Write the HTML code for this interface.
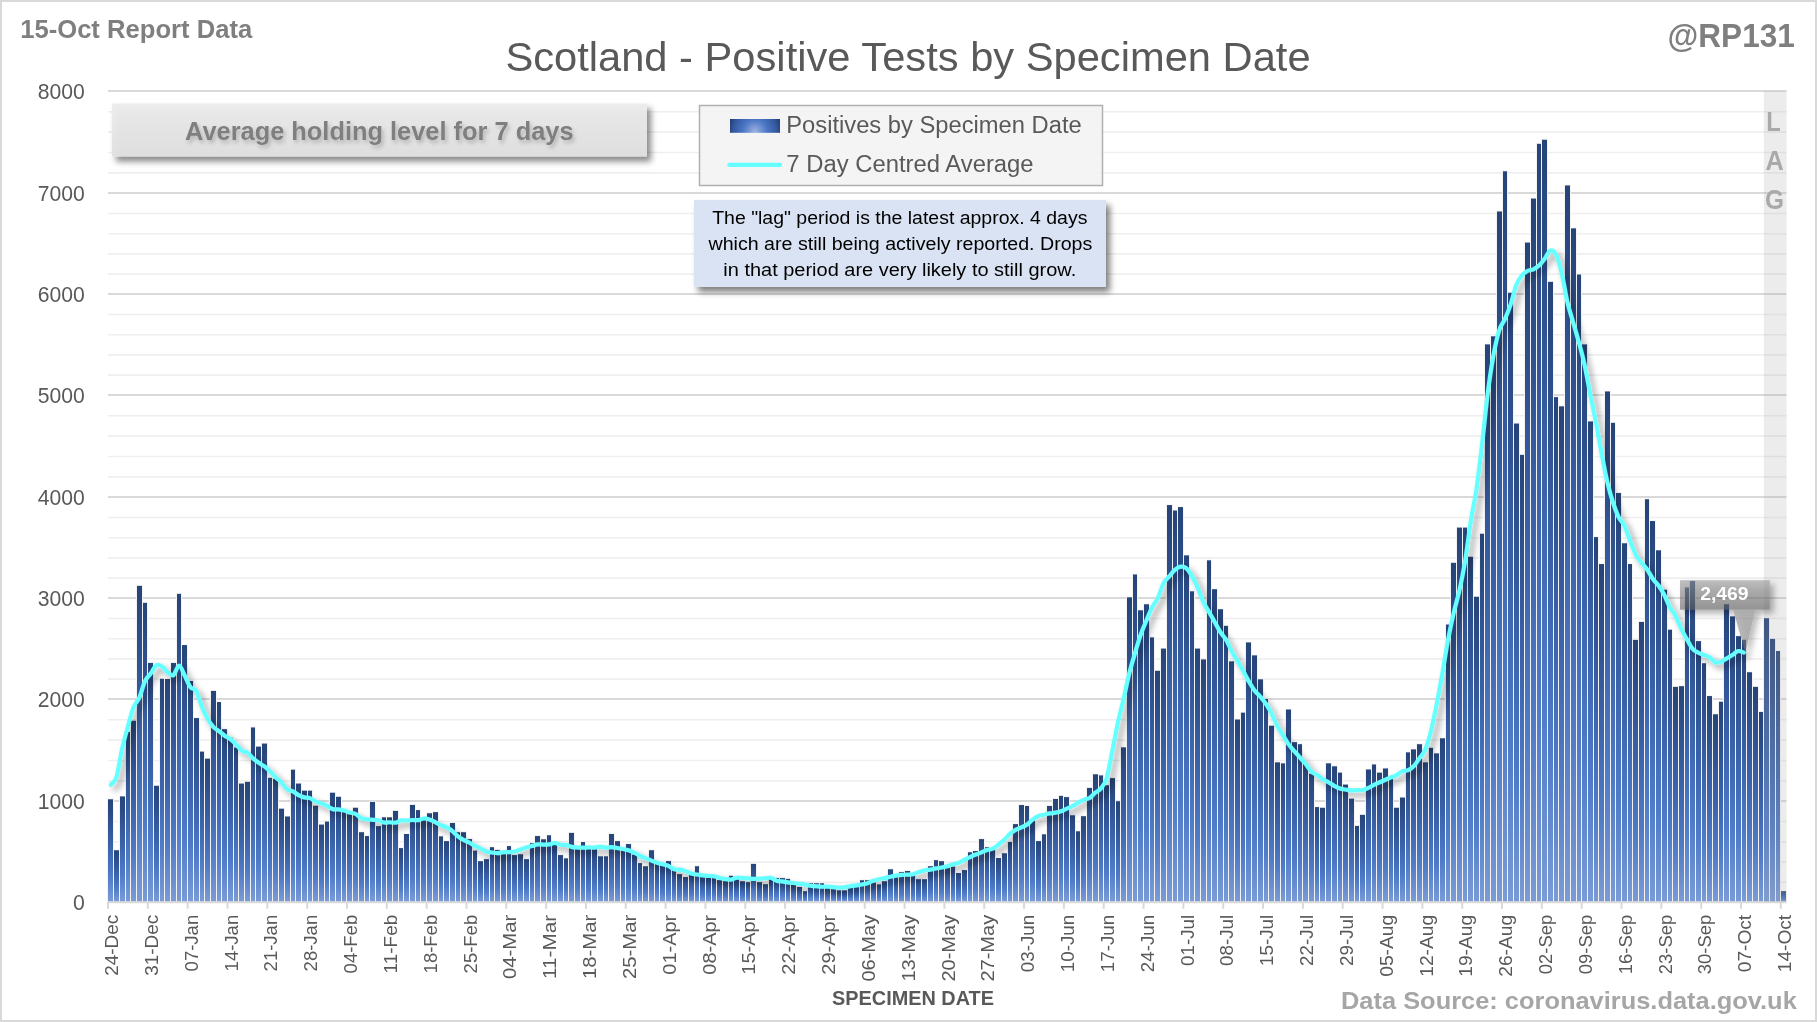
<!DOCTYPE html>
<html lang="en"><head><meta charset="utf-8"><title>Scotland - Positive Tests by Specimen Date</title>
<style>html,body{margin:0;padding:0;background:#fff;}body{width:1817px;height:1022px;overflow:hidden;}svg{display:block;will-change:transform;}text{font-family:"Liberation Sans",sans-serif;}</style>
</head><body>
<svg width="1817" height="1022" viewBox="0 0 1817 1022">
<defs>
<linearGradient id="bg" x1="0" y1="0" x2="0" y2="1">
<stop offset="0" stop-color="#264478"/><stop offset="0.22" stop-color="#2f5190"/><stop offset="0.5" stop-color="#3d66af"/><stop offset="0.75" stop-color="#4f7bc8"/><stop offset="1" stop-color="#7a9bd6"/>
</linearGradient>
<radialGradient id="lg" gradientUnits="userSpaceOnUse" cx="755" cy="131.5" r="27"><stop offset="0" stop-color="#9db2df"/><stop offset="0.45" stop-color="#4a76c6"/><stop offset="0.8" stop-color="#35599f"/><stop offset="1" stop-color="#223c78"/></radialGradient>
<linearGradient id="avgbox" x1="0" y1="0" x2="0" y2="1"><stop offset="0" stop-color="#ececec"/><stop offset="1" stop-color="#e0e0e0"/></linearGradient>
<filter id="lsh" x="-5%" y="-5%" width="110%" height="110%"><feGaussianBlur in="SourceAlpha" stdDeviation="3"/><feOffset dx="4" dy="4"/><feComponentTransfer><feFuncA type="linear" slope="0.38"/></feComponentTransfer><feMerge><feMergeNode/><feMergeNode in="SourceGraphic"/></feMerge></filter>
<filter id="bsh" x="-10%" y="-20%" width="120%" height="150%"><feGaussianBlur in="SourceAlpha" stdDeviation="3"/><feOffset dx="4" dy="5"/><feComponentTransfer><feFuncA type="linear" slope="0.5"/></feComponentTransfer><feMerge><feMergeNode/><feMergeNode in="SourceGraphic"/></feMerge></filter>
<filter id="tsh" x="-10%" y="-30%" width="120%" height="170%"><feGaussianBlur in="SourceAlpha" stdDeviation="2"/><feOffset dx="2" dy="2.5"/><feComponentTransfer><feFuncA type="linear" slope="0.22"/></feComponentTransfer><feMerge><feMergeNode/><feMergeNode in="SourceGraphic"/></feMerge></filter>
<linearGradient id="cg" x1="0" y1="0" x2="0" y2="1"><stop offset="0" stop-color="#969696"/><stop offset="1" stop-color="#5c5c5c"/></linearGradient>
<filter id="csh" x="-15%" y="-15%" width="135%" height="140%"><feGaussianBlur in="SourceAlpha" stdDeviation="3"/><feOffset dx="3.5" dy="4"/><feComponentTransfer><feFuncA type="linear" slope="0.5"/></feComponentTransfer><feComposite in2="SourceAlpha" operator="out"/><feMerge><feMergeNode/><feMergeNode in="SourceGraphic"/></feMerge></filter>
</defs>
<rect x="0" y="0" width="1817" height="1022" fill="#d9d9d9"/>
<rect x="2" y="2" width="1813" height="1018" fill="#ffffff"/>
<g><line x1="108.0" x2="1786.5" y1="882.34" y2="882.34" stroke="#efefef" stroke-width="1.6"/><line x1="108.0" x2="1786.5" y1="862.08" y2="862.08" stroke="#efefef" stroke-width="1.6"/><line x1="108.0" x2="1786.5" y1="841.82" y2="841.82" stroke="#efefef" stroke-width="1.6"/><line x1="108.0" x2="1786.5" y1="821.56" y2="821.56" stroke="#efefef" stroke-width="1.6"/><line x1="108.0" x2="1786.5" y1="801.00" y2="801.00" stroke="#d9d9d9" stroke-width="2"/><line x1="108.0" x2="1786.5" y1="780.90" y2="780.90" stroke="#efefef" stroke-width="1.6"/><line x1="108.0" x2="1786.5" y1="760.50" y2="760.50" stroke="#efefef" stroke-width="1.6"/><line x1="108.0" x2="1786.5" y1="740.10" y2="740.10" stroke="#efefef" stroke-width="1.6"/><line x1="108.0" x2="1786.5" y1="719.70" y2="719.70" stroke="#efefef" stroke-width="1.6"/><line x1="108.0" x2="1786.5" y1="699.00" y2="699.00" stroke="#d9d9d9" stroke-width="2"/><line x1="108.0" x2="1786.5" y1="679.10" y2="679.10" stroke="#efefef" stroke-width="1.6"/><line x1="108.0" x2="1786.5" y1="658.90" y2="658.90" stroke="#efefef" stroke-width="1.6"/><line x1="108.0" x2="1786.5" y1="638.70" y2="638.70" stroke="#efefef" stroke-width="1.6"/><line x1="108.0" x2="1786.5" y1="618.50" y2="618.50" stroke="#efefef" stroke-width="1.6"/><line x1="108.0" x2="1786.5" y1="598.00" y2="598.00" stroke="#d9d9d9" stroke-width="2"/><line x1="108.0" x2="1786.5" y1="578.10" y2="578.10" stroke="#efefef" stroke-width="1.6"/><line x1="108.0" x2="1786.5" y1="557.90" y2="557.90" stroke="#efefef" stroke-width="1.6"/><line x1="108.0" x2="1786.5" y1="537.70" y2="537.70" stroke="#efefef" stroke-width="1.6"/><line x1="108.0" x2="1786.5" y1="517.50" y2="517.50" stroke="#efefef" stroke-width="1.6"/><line x1="108.0" x2="1786.5" y1="497.00" y2="497.00" stroke="#d9d9d9" stroke-width="2"/><line x1="108.0" x2="1786.5" y1="476.90" y2="476.90" stroke="#efefef" stroke-width="1.6"/><line x1="108.0" x2="1786.5" y1="456.50" y2="456.50" stroke="#efefef" stroke-width="1.6"/><line x1="108.0" x2="1786.5" y1="436.10" y2="436.10" stroke="#efefef" stroke-width="1.6"/><line x1="108.0" x2="1786.5" y1="415.70" y2="415.70" stroke="#efefef" stroke-width="1.6"/><line x1="108.0" x2="1786.5" y1="395.00" y2="395.00" stroke="#d9d9d9" stroke-width="2"/><line x1="108.0" x2="1786.5" y1="375.10" y2="375.10" stroke="#efefef" stroke-width="1.6"/><line x1="108.0" x2="1786.5" y1="354.90" y2="354.90" stroke="#efefef" stroke-width="1.6"/><line x1="108.0" x2="1786.5" y1="334.70" y2="334.70" stroke="#efefef" stroke-width="1.6"/><line x1="108.0" x2="1786.5" y1="314.50" y2="314.50" stroke="#efefef" stroke-width="1.6"/><line x1="108.0" x2="1786.5" y1="294.00" y2="294.00" stroke="#d9d9d9" stroke-width="2"/><line x1="108.0" x2="1786.5" y1="274.10" y2="274.10" stroke="#efefef" stroke-width="1.6"/><line x1="108.0" x2="1786.5" y1="253.90" y2="253.90" stroke="#efefef" stroke-width="1.6"/><line x1="108.0" x2="1786.5" y1="233.70" y2="233.70" stroke="#efefef" stroke-width="1.6"/><line x1="108.0" x2="1786.5" y1="213.50" y2="213.50" stroke="#efefef" stroke-width="1.6"/><line x1="108.0" x2="1786.5" y1="193.00" y2="193.00" stroke="#d9d9d9" stroke-width="2"/><line x1="108.0" x2="1786.5" y1="172.90" y2="172.90" stroke="#efefef" stroke-width="1.6"/><line x1="108.0" x2="1786.5" y1="152.50" y2="152.50" stroke="#efefef" stroke-width="1.6"/><line x1="108.0" x2="1786.5" y1="132.10" y2="132.10" stroke="#efefef" stroke-width="1.6"/><line x1="108.0" x2="1786.5" y1="111.70" y2="111.70" stroke="#efefef" stroke-width="1.6"/><line x1="108.0" x2="1786.5" y1="91.00" y2="91.00" stroke="#d9d9d9" stroke-width="2"/></g>
<g fill="#f3f3f3"><rect x="107" y="798.47" width="7" height="103.13"/><rect x="113" y="849.43" width="7" height="52.17"/><rect x="119" y="795.61" width="7" height="105.99"/><rect x="125" y="731.15" width="6" height="170.45"/><rect x="130" y="719.93" width="7" height="181.67"/><rect x="136" y="585.08" width="7" height="316.52"/><rect x="142" y="602.05" width="6" height="299.55"/><rect x="147" y="662.14" width="7" height="239.46"/><rect x="153" y="785.00" width="7" height="116.60"/><rect x="159" y="678.00" width="6" height="223.60"/><rect x="164" y="678.20" width="7" height="223.40"/><rect x="170" y="662.14" width="7" height="239.46"/><rect x="176" y="593.06" width="6" height="308.54"/><rect x="181" y="644.27" width="7" height="257.33"/><rect x="187" y="680.22" width="7" height="221.38"/><rect x="193" y="717.27" width="7" height="184.33"/><rect x="199" y="750.83" width="6" height="150.77"/><rect x="204" y="757.87" width="7" height="143.73"/><rect x="210" y="690.12" width="7" height="211.48"/><rect x="216" y="701.26" width="6" height="200.34"/><rect x="221" y="728.39" width="7" height="173.21"/><rect x="227" y="736.96" width="7" height="164.64"/><rect x="233" y="746.75" width="6" height="154.85"/><rect x="238" y="782.76" width="7" height="118.84"/><rect x="244" y="781.02" width="7" height="120.58"/><rect x="250" y="726.66" width="6" height="174.94"/><rect x="255" y="745.83" width="7" height="155.77"/><rect x="261" y="742.77" width="7" height="158.83"/><rect x="267" y="777.05" width="6" height="124.55"/><rect x="272" y="778.07" width="7" height="123.53"/><rect x="278" y="807.90" width="7" height="93.70"/><rect x="284" y="815.70" width="7" height="85.90"/><rect x="290" y="768.89" width="6" height="132.71"/><rect x="295" y="782.76" width="7" height="118.84"/><rect x="301" y="789.90" width="7" height="111.70"/><rect x="307" y="789.90" width="6" height="111.70"/><rect x="312" y="804.96" width="7" height="96.64"/><rect x="318" y="823.80" width="7" height="77.80"/><rect x="324" y="820.76" width="6" height="80.84"/><rect x="329" y="791.94" width="7" height="109.66"/><rect x="335" y="796.02" width="7" height="105.58"/><rect x="341" y="808.30" width="6" height="93.30"/><rect x="346" y="812.46" width="7" height="89.14"/><rect x="352" y="806.99" width="7" height="94.61"/><rect x="358" y="831.40" width="7" height="70.20"/><rect x="364" y="835.25" width="6" height="66.35"/><rect x="369" y="801.11" width="7" height="100.49"/><rect x="375" y="825.32" width="7" height="76.28"/><rect x="381" y="816.51" width="6" height="85.09"/><rect x="386" y="816.51" width="7" height="85.09"/><rect x="392" y="810.13" width="7" height="91.47"/><rect x="398" y="847.30" width="6" height="54.30"/><rect x="403" y="833.22" width="7" height="68.38"/><rect x="409" y="804.15" width="7" height="97.45"/><rect x="415" y="809.32" width="6" height="92.28"/><rect x="420" y="817.72" width="7" height="83.88"/><rect x="426" y="812.46" width="7" height="89.14"/><rect x="432" y="811.34" width="7" height="90.26"/><rect x="438" y="835.55" width="6" height="66.05"/><rect x="443" y="840.31" width="7" height="61.29"/><rect x="449" y="822.18" width="7" height="79.42"/><rect x="455" y="831.40" width="6" height="70.20"/><rect x="460" y="831.40" width="7" height="70.20"/><rect x="466" y="838.29" width="7" height="63.31"/><rect x="472" y="849.84" width="6" height="51.76"/><rect x="477" y="860.37" width="7" height="41.23"/><rect x="483" y="858.35" width="7" height="43.25"/><rect x="489" y="846.39" width="6" height="55.21"/><rect x="494" y="849.13" width="7" height="52.47"/><rect x="500" y="852.47" width="7" height="49.13"/><rect x="506" y="845.28" width="6" height="56.32"/><rect x="511" y="854.29" width="7" height="47.31"/><rect x="517" y="853.48" width="7" height="48.12"/><rect x="523" y="858.35" width="7" height="43.25"/><rect x="529" y="842.34" width="6" height="59.26"/><rect x="534" y="835.25" width="7" height="66.35"/><rect x="540" y="838.49" width="7" height="63.11"/><rect x="546" y="834.44" width="6" height="67.16"/><rect x="551" y="843.05" width="7" height="58.55"/><rect x="557" y="854.29" width="7" height="47.31"/><rect x="563" y="857.54" width="6" height="44.06"/><rect x="568" y="832.11" width="7" height="69.49"/><rect x="574" y="847.10" width="7" height="54.50"/><rect x="580" y="841.23" width="6" height="60.37"/><rect x="585" y="847.10" width="7" height="54.50"/><rect x="591" y="847.81" width="7" height="53.79"/><rect x="597" y="855.51" width="7" height="46.09"/><rect x="603" y="855.51" width="6" height="46.09"/><rect x="608" y="833.22" width="7" height="68.38"/><rect x="614" y="840.31" width="7" height="61.29"/><rect x="620" y="848.42" width="6" height="53.18"/><rect x="625" y="843.25" width="7" height="58.35"/><rect x="631" y="853.89" width="7" height="47.71"/><rect x="637" y="862.30" width="6" height="39.30"/><rect x="642" y="865.44" width="7" height="36.16"/><rect x="648" y="849.43" width="7" height="52.17"/><rect x="654" y="862.70" width="6" height="38.90"/><rect x="659" y="864.53" width="7" height="37.07"/><rect x="665" y="860.27" width="7" height="41.33"/><rect x="671" y="868.88" width="6" height="32.72"/><rect x="676" y="873.34" width="7" height="28.26"/><rect x="682" y="876.28" width="7" height="25.32"/><rect x="688" y="873.34" width="7" height="28.26"/><rect x="694" y="865.44" width="6" height="36.16"/><rect x="699" y="874.96" width="7" height="26.64"/><rect x="705" y="876.28" width="7" height="25.32"/><rect x="711" y="876.28" width="6" height="25.32"/><rect x="716" y="879.32" width="7" height="22.28"/><rect x="722" y="880.43" width="7" height="21.17"/><rect x="728" y="874.96" width="6" height="26.64"/><rect x="733" y="878.40" width="7" height="23.20"/><rect x="739" y="880.43" width="7" height="21.17"/><rect x="745" y="881.34" width="6" height="20.26"/><rect x="750" y="863.11" width="7" height="38.49"/><rect x="756" y="881.34" width="7" height="20.26"/><rect x="762" y="883.37" width="7" height="18.23"/><rect x="768" y="878.40" width="6" height="23.20"/><rect x="773" y="877.29" width="7" height="24.31"/><rect x="779" y="877.29" width="7" height="24.31"/><rect x="785" y="878.10" width="6" height="23.50"/><rect x="790" y="883.77" width="7" height="17.83"/><rect x="796" y="886.20" width="7" height="15.40"/><rect x="802" y="890.36" width="6" height="11.24"/><rect x="807" y="882.46" width="7" height="19.14"/><rect x="813" y="882.46" width="7" height="19.14"/><rect x="819" y="882.46" width="6" height="19.14"/><rect x="824" y="887.22" width="7" height="14.38"/><rect x="830" y="887.22" width="7" height="14.38"/><rect x="836" y="889.55" width="6" height="12.05"/><rect x="841" y="889.55" width="7" height="12.05"/><rect x="847" y="886.20" width="7" height="15.40"/><rect x="853" y="885.80" width="7" height="15.80"/><rect x="859" y="879.42" width="6" height="22.18"/><rect x="864" y="879.42" width="7" height="22.18"/><rect x="870" y="881.75" width="7" height="19.85"/><rect x="876" y="883.57" width="6" height="18.03"/><rect x="881" y="880.43" width="7" height="21.17"/><rect x="887" y="868.48" width="7" height="33.12"/><rect x="893" y="875.67" width="6" height="25.93"/><rect x="898" y="871.31" width="7" height="30.29"/><rect x="904" y="870.20" width="7" height="31.40"/><rect x="910" y="874.55" width="6" height="27.05"/><rect x="915" y="878.40" width="7" height="23.20"/><rect x="921" y="878.40" width="7" height="23.20"/><rect x="927" y="865.44" width="7" height="36.16"/><rect x="933" y="859.36" width="6" height="42.24"/><rect x="938" y="860.37" width="7" height="41.23"/><rect x="944" y="865.44" width="7" height="36.16"/><rect x="950" y="865.84" width="6" height="35.76"/><rect x="955" y="872.22" width="7" height="29.38"/><rect x="961" y="869.29" width="7" height="32.31"/><rect x="967" y="851.46" width="6" height="50.14"/><rect x="972" y="850.24" width="7" height="51.36"/><rect x="978" y="838.29" width="7" height="63.31"/><rect x="984" y="846.39" width="6" height="55.21"/><rect x="989" y="848.42" width="7" height="53.18"/><rect x="995" y="857.23" width="7" height="44.37"/><rect x="1001" y="852.47" width="7" height="49.13"/><rect x="1007" y="841.23" width="6" height="60.37"/><rect x="1012" y="823.30" width="7" height="78.30"/><rect x="1018" y="804.25" width="7" height="97.35"/><rect x="1024" y="805.16" width="6" height="96.44"/><rect x="1029" y="819.75" width="7" height="81.85"/><rect x="1035" y="840.31" width="7" height="61.29"/><rect x="1041" y="833.53" width="6" height="68.07"/><rect x="1046" y="805.16" width="7" height="96.44"/><rect x="1052" y="798.16" width="7" height="103.44"/><rect x="1058" y="795.10" width="6" height="106.50"/><rect x="1063" y="796.32" width="7" height="105.28"/><rect x="1069" y="814.48" width="7" height="87.12"/><rect x="1075" y="830.49" width="6" height="71.11"/><rect x="1080" y="815.39" width="7" height="86.21"/><rect x="1086" y="787.14" width="7" height="114.46"/><rect x="1092" y="773.48" width="7" height="128.12"/><rect x="1098" y="774.60" width="6" height="127.00"/><rect x="1103" y="784.39" width="7" height="117.21"/><rect x="1109" y="777.35" width="7" height="124.25"/><rect x="1115" y="800.40" width="6" height="101.20"/><rect x="1120" y="746.55" width="7" height="155.05"/><rect x="1126" y="596.49" width="7" height="305.11"/><rect x="1132" y="573.67" width="6" height="327.93"/><rect x="1137" y="609.52" width="7" height="292.08"/><rect x="1143" y="603.46" width="7" height="298.14"/><rect x="1149" y="636.59" width="6" height="265.01"/><rect x="1154" y="670.02" width="7" height="231.58"/><rect x="1160" y="647.80" width="7" height="253.80"/><rect x="1166" y="504.28" width="7" height="397.32"/><rect x="1172" y="509.73" width="6" height="391.87"/><rect x="1177" y="506.30" width="7" height="395.30"/><rect x="1183" y="554.58" width="7" height="347.02"/><rect x="1189" y="590.53" width="6" height="311.07"/><rect x="1194" y="647.80" width="7" height="253.80"/><rect x="1200" y="658.61" width="7" height="242.99"/><rect x="1206" y="559.53" width="6" height="342.07"/><rect x="1211" y="588.41" width="7" height="313.19"/><rect x="1217" y="608.41" width="7" height="293.19"/><rect x="1223" y="625.08" width="6" height="276.52"/><rect x="1228" y="660.53" width="7" height="241.07"/><rect x="1234" y="718.70" width="7" height="182.90"/><rect x="1240" y="711.87" width="6" height="189.73"/><rect x="1245" y="641.64" width="7" height="259.96"/><rect x="1251" y="654.57" width="7" height="247.03"/><rect x="1257" y="678.50" width="7" height="223.10"/><rect x="1263" y="698.20" width="6" height="203.40"/><rect x="1268" y="724.92" width="7" height="176.68"/><rect x="1274" y="761.54" width="7" height="140.06"/><rect x="1280" y="762.56" width="6" height="139.04"/><rect x="1285" y="708.71" width="7" height="192.89"/><rect x="1291" y="741.35" width="7" height="160.25"/><rect x="1297" y="743.39" width="6" height="158.21"/><rect x="1302" y="762.46" width="7" height="139.14"/><rect x="1308" y="772.86" width="7" height="128.74"/><rect x="1314" y="806.28" width="6" height="95.32"/><rect x="1319" y="806.99" width="7" height="94.61"/><rect x="1325" y="762.56" width="7" height="139.04"/><rect x="1331" y="765.52" width="7" height="136.08"/><rect x="1337" y="771.84" width="6" height="129.76"/><rect x="1342" y="783.78" width="7" height="117.82"/><rect x="1348" y="797.85" width="7" height="103.75"/><rect x="1354" y="825.12" width="6" height="76.48"/><rect x="1359" y="814.08" width="7" height="87.52"/><rect x="1365" y="768.68" width="7" height="132.92"/><rect x="1371" y="763.68" width="6" height="137.92"/><rect x="1376" y="771.84" width="7" height="129.76"/><rect x="1382" y="767.66" width="7" height="133.94"/><rect x="1388" y="776.94" width="6" height="124.66"/><rect x="1393" y="806.99" width="7" height="94.61"/><rect x="1399" y="796.73" width="7" height="104.87"/><rect x="1405" y="751.55" width="6" height="150.05"/><rect x="1410" y="748.59" width="7" height="153.01"/><rect x="1416" y="743.39" width="7" height="158.21"/><rect x="1422" y="761.54" width="7" height="140.06"/><rect x="1428" y="747.06" width="6" height="154.54"/><rect x="1433" y="752.57" width="7" height="149.03"/><rect x="1439" y="737.47" width="7" height="164.13"/><rect x="1445" y="623.76" width="6" height="277.84"/><rect x="1450" y="562.05" width="7" height="339.55"/><rect x="1456" y="526.80" width="7" height="374.80"/><rect x="1462" y="526.80" width="6" height="374.80"/><rect x="1467" y="555.99" width="7" height="345.61"/><rect x="1473" y="595.99" width="7" height="305.61"/><rect x="1479" y="532.96" width="6" height="368.64"/><rect x="1484" y="343.60" width="7" height="558.00"/><rect x="1490" y="335.52" width="7" height="566.08"/><rect x="1496" y="210.68" width="7" height="690.92"/><rect x="1502" y="170.47" width="6" height="731.13"/><rect x="1507" y="291.99" width="7" height="609.61"/><rect x="1513" y="422.76" width="7" height="478.84"/><rect x="1519" y="454.07" width="6" height="447.53"/><rect x="1524" y="241.79" width="7" height="659.81"/><rect x="1530" y="197.75" width="7" height="703.85"/><rect x="1536" y="143.04" width="6" height="758.56"/><rect x="1541" y="138.96" width="7" height="762.64"/><rect x="1547" y="281.08" width="7" height="620.52"/><rect x="1553" y="396.34" width="6" height="505.26"/><rect x="1558" y="405.52" width="7" height="496.08"/><rect x="1564" y="184.65" width="7" height="716.95"/><rect x="1570" y="227.55" width="7" height="674.05"/><rect x="1576" y="273.71" width="6" height="627.89"/><rect x="1581" y="343.60" width="7" height="558.00"/><rect x="1587" y="420.62" width="7" height="480.98"/><rect x="1593" y="536.30" width="6" height="365.30"/><rect x="1598" y="563.26" width="7" height="338.34"/><rect x="1604" y="390.66" width="7" height="510.94"/><rect x="1610" y="422.05" width="6" height="479.55"/><rect x="1615" y="492.22" width="7" height="409.38"/><rect x="1621" y="542.46" width="7" height="359.14"/><rect x="1627" y="563.26" width="6" height="338.34"/><rect x="1632" y="639.12" width="7" height="262.49"/><rect x="1638" y="621.14" width="7" height="280.46"/><rect x="1644" y="498.42" width="6" height="403.18"/><rect x="1649" y="520.24" width="7" height="381.36"/><rect x="1655" y="549.53" width="7" height="352.07"/><rect x="1661" y="588.92" width="7" height="312.68"/><rect x="1667" y="628.91" width="6" height="272.69"/><rect x="1672" y="686.08" width="7" height="215.52"/><rect x="1678" y="685.37" width="7" height="216.23"/><rect x="1684" y="586.70" width="6" height="314.90"/><rect x="1689" y="580.23" width="7" height="321.37"/><rect x="1695" y="640.33" width="7" height="261.27"/><rect x="1701" y="662.45" width="6" height="239.15"/><rect x="1706" y="695.27" width="7" height="206.33"/><rect x="1712" y="713.50" width="7" height="188.10"/><rect x="1718" y="700.95" width="6" height="200.65"/><rect x="1723" y="603.46" width="7" height="298.14"/><rect x="1729" y="615.58" width="7" height="286.02"/><rect x="1735" y="635.38" width="7" height="266.22"/><rect x="1741" y="639.01" width="6" height="262.59"/><rect x="1746" y="671.44" width="7" height="230.17"/><rect x="1752" y="686.08" width="7" height="215.52"/><rect x="1758" y="711.15" width="6" height="190.45"/><rect x="1763" y="617.40" width="7" height="284.20"/><rect x="1769" y="638.11" width="7" height="263.50"/><rect x="1775" y="650.23" width="6" height="251.38"/><rect x="1780" y="890.36" width="7" height="11.24"/></g>
<g fill="url(#bg)"><rect x="108" y="799.27" width="5" height="102.33"/><rect x="114" y="850.23" width="5" height="51.37"/><rect x="120" y="796.41" width="5" height="105.19"/><rect x="126" y="731.95" width="4" height="169.65"/><rect x="131" y="720.73" width="5" height="180.87"/><rect x="137" y="585.88" width="5" height="315.72"/><rect x="143" y="602.85" width="4" height="298.75"/><rect x="148" y="662.94" width="5" height="238.66"/><rect x="154" y="785.80" width="5" height="115.80"/><rect x="160" y="678.80" width="4" height="222.80"/><rect x="165" y="679.00" width="5" height="222.60"/><rect x="171" y="662.94" width="5" height="238.66"/><rect x="177" y="593.86" width="4" height="307.74"/><rect x="182" y="645.07" width="5" height="256.53"/><rect x="188" y="681.02" width="5" height="220.58"/><rect x="194" y="718.07" width="5" height="183.53"/><rect x="200" y="751.63" width="4" height="149.97"/><rect x="205" y="758.67" width="5" height="142.93"/><rect x="211" y="690.92" width="5" height="210.68"/><rect x="217" y="702.06" width="4" height="199.54"/><rect x="222" y="729.19" width="5" height="172.41"/><rect x="228" y="737.76" width="5" height="163.84"/><rect x="234" y="747.55" width="4" height="154.05"/><rect x="239" y="783.56" width="5" height="118.04"/><rect x="245" y="781.82" width="5" height="119.78"/><rect x="251" y="727.46" width="4" height="174.14"/><rect x="256" y="746.63" width="5" height="154.97"/><rect x="262" y="743.57" width="5" height="158.03"/><rect x="268" y="777.85" width="4" height="123.75"/><rect x="273" y="778.87" width="5" height="122.73"/><rect x="279" y="808.70" width="5" height="92.90"/><rect x="285" y="816.50" width="5" height="85.10"/><rect x="291" y="769.69" width="4" height="131.91"/><rect x="296" y="783.56" width="5" height="118.04"/><rect x="302" y="790.70" width="5" height="110.90"/><rect x="308" y="790.70" width="4" height="110.90"/><rect x="313" y="805.76" width="5" height="95.84"/><rect x="319" y="824.60" width="5" height="77.00"/><rect x="325" y="821.56" width="4" height="80.04"/><rect x="330" y="792.74" width="5" height="108.86"/><rect x="336" y="796.82" width="5" height="104.78"/><rect x="342" y="809.10" width="4" height="92.50"/><rect x="347" y="813.26" width="5" height="88.34"/><rect x="353" y="807.79" width="5" height="93.81"/><rect x="359" y="832.20" width="5" height="69.40"/><rect x="365" y="836.05" width="4" height="65.55"/><rect x="370" y="801.91" width="5" height="99.69"/><rect x="376" y="826.12" width="5" height="75.48"/><rect x="382" y="817.31" width="4" height="84.29"/><rect x="387" y="817.31" width="5" height="84.29"/><rect x="393" y="810.93" width="5" height="90.67"/><rect x="399" y="848.10" width="4" height="53.50"/><rect x="404" y="834.02" width="5" height="67.58"/><rect x="410" y="804.95" width="5" height="96.65"/><rect x="416" y="810.12" width="4" height="91.48"/><rect x="421" y="818.52" width="5" height="83.08"/><rect x="427" y="813.26" width="5" height="88.34"/><rect x="433" y="812.14" width="5" height="89.46"/><rect x="439" y="836.35" width="4" height="65.25"/><rect x="444" y="841.11" width="5" height="60.49"/><rect x="450" y="822.98" width="5" height="78.62"/><rect x="456" y="832.20" width="4" height="69.40"/><rect x="461" y="832.20" width="5" height="69.40"/><rect x="467" y="839.09" width="5" height="62.51"/><rect x="473" y="850.64" width="4" height="50.96"/><rect x="478" y="861.17" width="5" height="40.43"/><rect x="484" y="859.15" width="5" height="42.45"/><rect x="490" y="847.19" width="4" height="54.41"/><rect x="495" y="849.93" width="5" height="51.67"/><rect x="501" y="853.27" width="5" height="48.33"/><rect x="507" y="846.08" width="4" height="55.52"/><rect x="512" y="855.09" width="5" height="46.51"/><rect x="518" y="854.28" width="5" height="47.32"/><rect x="524" y="859.15" width="5" height="42.45"/><rect x="530" y="843.14" width="4" height="58.46"/><rect x="535" y="836.05" width="5" height="65.55"/><rect x="541" y="839.29" width="5" height="62.31"/><rect x="547" y="835.24" width="4" height="66.36"/><rect x="552" y="843.85" width="5" height="57.75"/><rect x="558" y="855.09" width="5" height="46.51"/><rect x="564" y="858.34" width="4" height="43.26"/><rect x="569" y="832.91" width="5" height="68.69"/><rect x="575" y="847.90" width="5" height="53.70"/><rect x="581" y="842.03" width="4" height="59.57"/><rect x="586" y="847.90" width="5" height="53.70"/><rect x="592" y="848.61" width="5" height="52.99"/><rect x="598" y="856.31" width="5" height="45.29"/><rect x="604" y="856.31" width="4" height="45.29"/><rect x="609" y="834.02" width="5" height="67.58"/><rect x="615" y="841.11" width="5" height="60.49"/><rect x="621" y="849.22" width="4" height="52.38"/><rect x="626" y="844.05" width="5" height="57.55"/><rect x="632" y="854.69" width="5" height="46.91"/><rect x="638" y="863.10" width="4" height="38.50"/><rect x="643" y="866.24" width="5" height="35.36"/><rect x="649" y="850.23" width="5" height="51.37"/><rect x="655" y="863.50" width="4" height="38.10"/><rect x="660" y="865.33" width="5" height="36.27"/><rect x="666" y="861.07" width="5" height="40.53"/><rect x="672" y="869.68" width="4" height="31.92"/><rect x="677" y="874.14" width="5" height="27.46"/><rect x="683" y="877.08" width="5" height="24.52"/><rect x="689" y="874.14" width="5" height="27.46"/><rect x="695" y="866.24" width="4" height="35.36"/><rect x="700" y="875.76" width="5" height="25.84"/><rect x="706" y="877.08" width="5" height="24.52"/><rect x="712" y="877.08" width="4" height="24.52"/><rect x="717" y="880.12" width="5" height="21.48"/><rect x="723" y="881.23" width="5" height="20.37"/><rect x="729" y="875.76" width="4" height="25.84"/><rect x="734" y="879.20" width="5" height="22.40"/><rect x="740" y="881.23" width="5" height="20.37"/><rect x="746" y="882.14" width="4" height="19.46"/><rect x="751" y="863.91" width="5" height="37.69"/><rect x="757" y="882.14" width="5" height="19.46"/><rect x="763" y="884.17" width="5" height="17.43"/><rect x="769" y="879.20" width="4" height="22.40"/><rect x="774" y="878.09" width="5" height="23.51"/><rect x="780" y="878.09" width="5" height="23.51"/><rect x="786" y="878.90" width="4" height="22.70"/><rect x="791" y="884.57" width="5" height="17.03"/><rect x="797" y="887.00" width="5" height="14.60"/><rect x="803" y="891.16" width="4" height="10.44"/><rect x="808" y="883.26" width="5" height="18.34"/><rect x="814" y="883.26" width="5" height="18.34"/><rect x="820" y="883.26" width="4" height="18.34"/><rect x="825" y="888.02" width="5" height="13.58"/><rect x="831" y="888.02" width="5" height="13.58"/><rect x="837" y="890.35" width="4" height="11.25"/><rect x="842" y="890.35" width="5" height="11.25"/><rect x="848" y="887.00" width="5" height="14.60"/><rect x="854" y="886.60" width="5" height="15.00"/><rect x="860" y="880.22" width="4" height="21.38"/><rect x="865" y="880.22" width="5" height="21.38"/><rect x="871" y="882.55" width="5" height="19.05"/><rect x="877" y="884.37" width="4" height="17.23"/><rect x="882" y="881.23" width="5" height="20.37"/><rect x="888" y="869.28" width="5" height="32.32"/><rect x="894" y="876.47" width="4" height="25.13"/><rect x="899" y="872.11" width="5" height="29.49"/><rect x="905" y="871.00" width="5" height="30.60"/><rect x="911" y="875.35" width="4" height="26.25"/><rect x="916" y="879.20" width="5" height="22.40"/><rect x="922" y="879.20" width="5" height="22.40"/><rect x="928" y="866.24" width="5" height="35.36"/><rect x="934" y="860.16" width="4" height="41.44"/><rect x="939" y="861.17" width="5" height="40.43"/><rect x="945" y="866.24" width="5" height="35.36"/><rect x="951" y="866.64" width="4" height="34.96"/><rect x="956" y="873.02" width="5" height="28.58"/><rect x="962" y="870.09" width="5" height="31.51"/><rect x="968" y="852.26" width="4" height="49.34"/><rect x="973" y="851.04" width="5" height="50.56"/><rect x="979" y="839.09" width="5" height="62.51"/><rect x="985" y="847.19" width="4" height="54.41"/><rect x="990" y="849.22" width="5" height="52.38"/><rect x="996" y="858.03" width="5" height="43.57"/><rect x="1002" y="853.27" width="5" height="48.33"/><rect x="1008" y="842.03" width="4" height="59.57"/><rect x="1013" y="824.10" width="5" height="77.50"/><rect x="1019" y="805.05" width="5" height="96.55"/><rect x="1025" y="805.96" width="4" height="95.64"/><rect x="1030" y="820.55" width="5" height="81.05"/><rect x="1036" y="841.11" width="5" height="60.49"/><rect x="1042" y="834.33" width="4" height="67.27"/><rect x="1047" y="805.96" width="5" height="95.64"/><rect x="1053" y="798.96" width="5" height="102.64"/><rect x="1059" y="795.90" width="4" height="105.70"/><rect x="1064" y="797.12" width="5" height="104.48"/><rect x="1070" y="815.28" width="5" height="86.32"/><rect x="1076" y="831.29" width="4" height="70.31"/><rect x="1081" y="816.19" width="5" height="85.41"/><rect x="1087" y="787.94" width="5" height="113.66"/><rect x="1093" y="774.28" width="5" height="127.32"/><rect x="1099" y="775.40" width="4" height="126.20"/><rect x="1104" y="785.19" width="5" height="116.41"/><rect x="1110" y="778.15" width="5" height="123.45"/><rect x="1116" y="801.20" width="4" height="100.40"/><rect x="1121" y="747.35" width="5" height="154.25"/><rect x="1127" y="597.29" width="5" height="304.31"/><rect x="1133" y="574.47" width="4" height="327.13"/><rect x="1138" y="610.32" width="5" height="291.28"/><rect x="1144" y="604.26" width="5" height="297.34"/><rect x="1150" y="637.39" width="4" height="264.21"/><rect x="1155" y="670.82" width="5" height="230.78"/><rect x="1161" y="648.60" width="5" height="253.00"/><rect x="1167" y="505.08" width="5" height="396.52"/><rect x="1173" y="510.53" width="4" height="391.07"/><rect x="1178" y="507.10" width="5" height="394.50"/><rect x="1184" y="555.38" width="5" height="346.22"/><rect x="1190" y="591.33" width="4" height="310.27"/><rect x="1195" y="648.60" width="5" height="253.00"/><rect x="1201" y="659.41" width="5" height="242.19"/><rect x="1207" y="560.33" width="4" height="341.27"/><rect x="1212" y="589.21" width="5" height="312.39"/><rect x="1218" y="609.21" width="5" height="292.39"/><rect x="1224" y="625.88" width="4" height="275.72"/><rect x="1229" y="661.33" width="5" height="240.27"/><rect x="1235" y="719.50" width="5" height="182.10"/><rect x="1241" y="712.67" width="4" height="188.93"/><rect x="1246" y="642.44" width="5" height="259.16"/><rect x="1252" y="655.37" width="5" height="246.23"/><rect x="1258" y="679.30" width="5" height="222.30"/><rect x="1264" y="699.00" width="4" height="202.60"/><rect x="1269" y="725.72" width="5" height="175.88"/><rect x="1275" y="762.34" width="5" height="139.26"/><rect x="1281" y="763.36" width="4" height="138.24"/><rect x="1286" y="709.51" width="5" height="192.09"/><rect x="1292" y="742.15" width="5" height="159.45"/><rect x="1298" y="744.19" width="4" height="157.41"/><rect x="1303" y="763.26" width="5" height="138.34"/><rect x="1309" y="773.66" width="5" height="127.94"/><rect x="1315" y="807.08" width="4" height="94.52"/><rect x="1320" y="807.79" width="5" height="93.81"/><rect x="1326" y="763.36" width="5" height="138.24"/><rect x="1332" y="766.32" width="5" height="135.28"/><rect x="1338" y="772.64" width="4" height="128.96"/><rect x="1343" y="784.58" width="5" height="117.02"/><rect x="1349" y="798.65" width="5" height="102.95"/><rect x="1355" y="825.92" width="4" height="75.68"/><rect x="1360" y="814.88" width="5" height="86.72"/><rect x="1366" y="769.48" width="5" height="132.12"/><rect x="1372" y="764.48" width="4" height="137.12"/><rect x="1377" y="772.64" width="5" height="128.96"/><rect x="1383" y="768.46" width="5" height="133.14"/><rect x="1389" y="777.74" width="4" height="123.86"/><rect x="1394" y="807.79" width="5" height="93.81"/><rect x="1400" y="797.53" width="5" height="104.07"/><rect x="1406" y="752.35" width="4" height="149.25"/><rect x="1411" y="749.39" width="5" height="152.21"/><rect x="1417" y="744.19" width="5" height="157.41"/><rect x="1423" y="762.34" width="5" height="139.26"/><rect x="1429" y="747.86" width="4" height="153.74"/><rect x="1434" y="753.37" width="5" height="148.23"/><rect x="1440" y="738.27" width="5" height="163.33"/><rect x="1446" y="624.56" width="4" height="277.04"/><rect x="1451" y="562.85" width="5" height="338.75"/><rect x="1457" y="527.60" width="5" height="374.00"/><rect x="1463" y="527.60" width="4" height="374.00"/><rect x="1468" y="556.79" width="5" height="344.81"/><rect x="1474" y="596.79" width="5" height="304.81"/><rect x="1480" y="533.76" width="4" height="367.84"/><rect x="1485" y="344.40" width="5" height="557.20"/><rect x="1491" y="336.32" width="5" height="565.28"/><rect x="1497" y="211.48" width="5" height="690.12"/><rect x="1503" y="171.27" width="4" height="730.33"/><rect x="1508" y="292.79" width="5" height="608.81"/><rect x="1514" y="423.56" width="5" height="478.04"/><rect x="1520" y="454.87" width="4" height="446.73"/><rect x="1525" y="242.59" width="5" height="659.01"/><rect x="1531" y="198.56" width="5" height="703.05"/><rect x="1537" y="143.84" width="4" height="757.76"/><rect x="1542" y="139.76" width="5" height="761.84"/><rect x="1548" y="281.88" width="5" height="619.72"/><rect x="1554" y="397.14" width="4" height="504.46"/><rect x="1559" y="406.32" width="5" height="495.28"/><rect x="1565" y="185.45" width="5" height="716.15"/><rect x="1571" y="228.35" width="5" height="673.25"/><rect x="1577" y="274.51" width="4" height="627.09"/><rect x="1582" y="344.40" width="5" height="557.20"/><rect x="1588" y="421.42" width="5" height="480.18"/><rect x="1594" y="537.10" width="4" height="364.50"/><rect x="1599" y="564.06" width="5" height="337.54"/><rect x="1605" y="391.46" width="5" height="510.14"/><rect x="1611" y="422.85" width="4" height="478.75"/><rect x="1616" y="493.02" width="5" height="408.58"/><rect x="1622" y="543.26" width="5" height="358.34"/><rect x="1628" y="564.06" width="4" height="337.54"/><rect x="1633" y="639.91" width="5" height="261.69"/><rect x="1639" y="621.94" width="5" height="279.66"/><rect x="1645" y="499.22" width="4" height="402.38"/><rect x="1650" y="521.04" width="5" height="380.56"/><rect x="1656" y="550.33" width="5" height="351.27"/><rect x="1662" y="589.72" width="5" height="311.88"/><rect x="1668" y="629.71" width="4" height="271.89"/><rect x="1673" y="686.88" width="5" height="214.72"/><rect x="1679" y="686.17" width="5" height="215.43"/><rect x="1685" y="587.50" width="4" height="314.10"/><rect x="1690" y="581.03" width="5" height="320.57"/><rect x="1696" y="641.13" width="5" height="260.47"/><rect x="1702" y="663.25" width="4" height="238.35"/><rect x="1707" y="696.07" width="5" height="205.53"/><rect x="1713" y="714.30" width="5" height="187.30"/><rect x="1719" y="701.75" width="4" height="199.85"/><rect x="1724" y="604.26" width="5" height="297.34"/><rect x="1730" y="616.38" width="5" height="285.22"/><rect x="1736" y="636.18" width="5" height="265.42"/><rect x="1742" y="639.81" width="4" height="261.79"/><rect x="1747" y="672.24" width="5" height="229.37"/><rect x="1753" y="686.88" width="5" height="214.72"/><rect x="1759" y="711.95" width="4" height="189.65"/><rect x="1764" y="618.20" width="5" height="283.40"/><rect x="1770" y="638.90" width="5" height="262.70"/><rect x="1776" y="651.02" width="4" height="250.58"/><rect x="1781" y="891.16" width="5" height="10.44"/></g>
<line x1="107.3" x2="1786.5" y1="902.3" y2="902.3" stroke="#d9d9d9" stroke-width="2"/>
<g><line x1="107.98" x2="107.98" y1="902" y2="908.8" stroke="#d9d9d9" stroke-width="2"/><line x1="147.81" x2="147.81" y1="902" y2="908.8" stroke="#d9d9d9" stroke-width="2"/><line x1="187.64" x2="187.64" y1="902" y2="908.8" stroke="#d9d9d9" stroke-width="2"/><line x1="227.47" x2="227.47" y1="902" y2="908.8" stroke="#d9d9d9" stroke-width="2"/><line x1="267.30" x2="267.30" y1="902" y2="908.8" stroke="#d9d9d9" stroke-width="2"/><line x1="307.13" x2="307.13" y1="902" y2="908.8" stroke="#d9d9d9" stroke-width="2"/><line x1="346.96" x2="346.96" y1="902" y2="908.8" stroke="#d9d9d9" stroke-width="2"/><line x1="386.79" x2="386.79" y1="902" y2="908.8" stroke="#d9d9d9" stroke-width="2"/><line x1="426.62" x2="426.62" y1="902" y2="908.8" stroke="#d9d9d9" stroke-width="2"/><line x1="466.45" x2="466.45" y1="902" y2="908.8" stroke="#d9d9d9" stroke-width="2"/><line x1="506.28" x2="506.28" y1="902" y2="908.8" stroke="#d9d9d9" stroke-width="2"/><line x1="546.11" x2="546.11" y1="902" y2="908.8" stroke="#d9d9d9" stroke-width="2"/><line x1="585.94" x2="585.94" y1="902" y2="908.8" stroke="#d9d9d9" stroke-width="2"/><line x1="625.77" x2="625.77" y1="902" y2="908.8" stroke="#d9d9d9" stroke-width="2"/><line x1="665.60" x2="665.60" y1="902" y2="908.8" stroke="#d9d9d9" stroke-width="2"/><line x1="705.43" x2="705.43" y1="902" y2="908.8" stroke="#d9d9d9" stroke-width="2"/><line x1="745.26" x2="745.26" y1="902" y2="908.8" stroke="#d9d9d9" stroke-width="2"/><line x1="785.09" x2="785.09" y1="902" y2="908.8" stroke="#d9d9d9" stroke-width="2"/><line x1="824.92" x2="824.92" y1="902" y2="908.8" stroke="#d9d9d9" stroke-width="2"/><line x1="864.75" x2="864.75" y1="902" y2="908.8" stroke="#d9d9d9" stroke-width="2"/><line x1="904.58" x2="904.58" y1="902" y2="908.8" stroke="#d9d9d9" stroke-width="2"/><line x1="944.41" x2="944.41" y1="902" y2="908.8" stroke="#d9d9d9" stroke-width="2"/><line x1="984.24" x2="984.24" y1="902" y2="908.8" stroke="#d9d9d9" stroke-width="2"/><line x1="1024.07" x2="1024.07" y1="902" y2="908.8" stroke="#d9d9d9" stroke-width="2"/><line x1="1063.90" x2="1063.90" y1="902" y2="908.8" stroke="#d9d9d9" stroke-width="2"/><line x1="1103.73" x2="1103.73" y1="902" y2="908.8" stroke="#d9d9d9" stroke-width="2"/><line x1="1143.56" x2="1143.56" y1="902" y2="908.8" stroke="#d9d9d9" stroke-width="2"/><line x1="1183.39" x2="1183.39" y1="902" y2="908.8" stroke="#d9d9d9" stroke-width="2"/><line x1="1223.22" x2="1223.22" y1="902" y2="908.8" stroke="#d9d9d9" stroke-width="2"/><line x1="1263.05" x2="1263.05" y1="902" y2="908.8" stroke="#d9d9d9" stroke-width="2"/><line x1="1302.88" x2="1302.88" y1="902" y2="908.8" stroke="#d9d9d9" stroke-width="2"/><line x1="1342.71" x2="1342.71" y1="902" y2="908.8" stroke="#d9d9d9" stroke-width="2"/><line x1="1382.54" x2="1382.54" y1="902" y2="908.8" stroke="#d9d9d9" stroke-width="2"/><line x1="1422.37" x2="1422.37" y1="902" y2="908.8" stroke="#d9d9d9" stroke-width="2"/><line x1="1462.20" x2="1462.20" y1="902" y2="908.8" stroke="#d9d9d9" stroke-width="2"/><line x1="1502.03" x2="1502.03" y1="902" y2="908.8" stroke="#d9d9d9" stroke-width="2"/><line x1="1541.86" x2="1541.86" y1="902" y2="908.8" stroke="#d9d9d9" stroke-width="2"/><line x1="1581.69" x2="1581.69" y1="902" y2="908.8" stroke="#d9d9d9" stroke-width="2"/><line x1="1621.52" x2="1621.52" y1="902" y2="908.8" stroke="#d9d9d9" stroke-width="2"/><line x1="1661.35" x2="1661.35" y1="902" y2="908.8" stroke="#d9d9d9" stroke-width="2"/><line x1="1701.18" x2="1701.18" y1="902" y2="908.8" stroke="#d9d9d9" stroke-width="2"/><line x1="1741.01" x2="1741.01" y1="902" y2="908.8" stroke="#d9d9d9" stroke-width="2"/><line x1="1780.84" x2="1780.84" y1="902" y2="908.8" stroke="#d9d9d9" stroke-width="2"/></g>
<rect x="1763.77" y="91" width="22.76" height="811" fill="#a6a6a6" fill-opacity="0.21"/>
<path d="M110.83 784.78C111.77 783.46 114.62 782.91 116.52 776.83C118.41 770.74 120.31 756.65 122.20 748.27C124.10 739.88 126.00 733.39 127.90 726.51C129.79 719.63 131.69 711.78 133.59 706.99C135.48 702.19 137.38 702.06 139.28 697.74C141.17 693.43 143.07 685.11 144.97 681.08C146.86 677.05 148.76 676.19 150.66 673.56C152.55 670.94 154.45 666.52 156.34 665.34C158.24 664.16 160.14 665.28 162.03 666.48C163.93 667.67 165.83 671.07 167.72 672.51C169.62 673.94 171.52 676.26 173.41 675.09C175.31 673.93 177.21 665.39 179.10 665.51C181.00 665.64 182.90 672.24 184.79 675.84C186.69 679.45 188.59 684.59 190.49 687.14C192.38 689.69 194.28 687.88 196.18 691.14C198.07 694.39 199.97 702.06 201.87 706.66C203.76 711.27 205.66 715.39 207.56 718.76C209.45 722.13 211.35 724.83 213.25 726.89C215.14 728.95 217.04 729.64 218.94 731.10C220.83 732.56 222.73 734.35 224.63 735.66C226.52 736.97 228.42 737.55 230.32 738.97C232.21 740.39 234.11 742.27 236.01 744.20C237.90 746.13 239.80 749.16 241.70 750.57C243.59 751.97 245.49 751.33 247.39 752.62C249.28 753.92 251.18 756.65 253.08 758.35C254.97 760.05 256.87 761.48 258.77 762.82C260.66 764.17 262.56 764.99 264.46 766.42C266.35 767.85 268.25 769.56 270.15 771.39C272.04 773.22 273.94 775.54 275.84 777.42C277.73 779.31 279.63 780.70 281.53 782.70C283.42 784.70 285.32 788.00 287.22 789.43C289.11 790.86 291.01 790.32 292.91 791.27C294.80 792.21 296.70 794.09 298.60 795.11C300.49 796.14 302.39 796.90 304.29 797.40C306.18 797.90 308.08 797.46 309.98 798.13C311.87 798.80 313.77 800.56 315.67 801.42C317.56 802.28 319.46 802.55 321.36 803.30C323.25 804.05 325.15 804.95 327.05 805.92C328.94 806.89 330.84 808.55 332.74 809.13C334.63 809.72 336.53 809.19 338.43 809.42C340.32 809.65 342.22 809.98 344.12 810.51C346.01 811.03 347.91 812.02 349.81 812.58C351.70 813.14 353.60 812.97 355.50 813.88C357.39 814.79 359.29 817.17 361.19 818.06C363.08 818.95 364.98 818.94 366.88 819.23C368.77 819.53 370.67 819.64 372.57 819.81C374.46 819.98 376.36 819.81 378.26 820.26C380.15 820.71 382.05 822.20 383.95 822.53C385.84 822.86 387.74 822.22 389.64 822.24C391.53 822.27 393.43 822.99 395.33 822.68C397.22 822.37 399.12 820.74 401.02 820.39C402.91 820.04 404.81 820.63 406.71 820.57C408.60 820.50 410.50 820.05 412.40 819.99C414.29 819.92 416.19 820.41 418.09 820.16C419.98 819.91 421.88 818.59 423.78 818.48C425.67 818.37 427.57 818.90 429.47 819.49C431.36 820.09 433.26 821.12 435.16 822.07C437.05 823.03 438.95 824.37 440.85 825.23C442.74 826.08 444.64 826.24 446.54 827.18C448.43 828.12 450.33 829.34 452.23 830.87C454.12 832.40 456.02 834.86 457.92 836.37C459.81 837.88 461.71 838.89 463.61 839.91C465.50 840.93 467.40 841.48 469.30 842.49C471.19 843.50 473.09 844.95 474.99 845.95C476.88 846.95 478.78 847.56 480.68 848.48C482.57 849.40 484.47 850.82 486.37 851.49C488.26 852.16 490.16 852.22 492.06 852.49C493.95 852.76 495.85 853.18 497.75 853.13C499.64 853.07 501.54 852.31 503.44 852.14C505.33 851.98 507.23 852.24 509.13 852.14C511.02 852.05 512.92 851.99 514.82 851.56C516.71 851.14 518.61 850.24 520.50 849.58C522.40 848.92 524.30 848.17 526.20 847.58C528.09 846.99 529.99 846.56 531.88 846.04C533.78 845.51 535.68 844.68 537.58 844.43C539.47 844.18 541.37 844.54 543.27 844.54C545.16 844.54 547.06 844.69 548.96 844.43C550.85 844.17 552.75 842.93 554.65 842.97C556.54 843.01 558.44 844.31 560.34 844.66C562.23 845.01 564.13 844.68 566.03 845.05C567.92 845.42 569.82 846.45 571.72 846.86C573.61 847.27 575.51 847.40 577.41 847.54C579.30 847.68 581.20 847.73 583.10 847.71C584.99 847.69 586.89 847.45 588.79 847.42C590.68 847.40 592.58 847.72 594.48 847.58C596.37 847.45 598.27 846.60 600.17 846.61C602.06 846.62 603.96 847.56 605.86 847.64C607.75 847.72 609.65 847.04 611.55 847.09C613.44 847.14 615.34 847.65 617.24 847.96C619.13 848.27 621.03 848.53 622.93 848.93C624.82 849.33 626.72 849.73 628.62 850.35C630.51 850.97 632.41 851.74 634.31 852.66C636.20 853.58 638.10 854.94 640.00 855.86C641.89 856.78 643.79 857.37 645.69 858.16C647.58 858.95 649.48 859.83 651.38 860.59C653.27 861.36 655.17 862.12 657.07 862.74C658.96 863.35 660.86 863.79 662.76 864.31C664.65 864.83 666.55 865.03 668.45 865.86C670.34 866.69 672.24 868.64 674.14 869.28C676.03 869.91 677.93 869.35 679.83 869.67C681.72 869.98 683.62 870.53 685.52 871.16C687.41 871.79 689.31 872.89 691.21 873.44C693.10 874.00 695.00 874.18 696.90 874.50C698.79 874.82 700.69 875.11 702.59 875.35C704.48 875.60 706.38 875.81 708.28 875.95C710.17 876.09 712.07 875.83 713.97 876.18C715.86 876.53 717.76 877.59 719.66 878.03C721.55 878.47 723.45 878.56 725.35 878.81C727.24 879.06 729.14 879.73 731.04 879.54C732.93 879.34 734.83 877.92 736.73 877.66C738.62 877.39 740.52 877.83 742.42 877.94C744.31 878.06 746.21 878.21 748.11 878.36C750.00 878.52 751.90 878.80 753.80 878.86C755.69 878.91 757.59 878.80 759.49 878.70C761.38 878.60 763.28 878.40 765.18 878.25C767.07 878.10 768.97 877.37 770.87 877.79C772.76 878.20 774.66 880.13 776.56 880.74C778.45 881.35 780.35 881.15 782.25 881.43C784.14 881.71 786.04 882.17 787.94 882.43C789.83 882.69 791.73 882.79 793.63 883.01C795.52 883.23 797.42 883.50 799.32 883.75C801.21 883.99 803.11 884.15 805.01 884.49C806.90 884.83 808.80 885.49 810.70 885.79C812.59 886.09 814.49 886.12 816.39 886.28C818.28 886.44 820.18 886.70 822.08 886.76C823.97 886.82 825.87 886.57 827.77 886.64C829.66 886.71 831.56 887.01 833.46 887.18C835.35 887.35 837.25 887.65 839.15 887.65C841.04 887.66 842.94 887.48 844.84 887.22C846.73 886.96 848.63 886.42 850.53 886.11C852.42 885.79 854.32 885.60 856.22 885.33C858.11 885.05 860.01 884.83 861.91 884.47C863.80 884.11 865.70 883.81 867.60 883.17C869.49 882.53 871.39 881.30 873.29 880.64C875.18 879.97 877.08 879.62 878.98 879.19C880.87 878.75 882.77 878.44 884.67 878.03C886.56 877.62 888.46 877.11 890.36 876.71C892.25 876.32 894.15 875.98 896.05 875.69C897.94 875.39 899.84 875.12 901.74 874.95C903.63 874.78 905.53 874.78 907.43 874.66C909.32 874.54 911.22 874.69 913.12 874.23C915.01 873.76 916.91 872.54 918.81 871.90C920.70 871.25 922.60 870.71 924.50 870.33C926.39 869.96 928.29 869.97 930.19 869.65C932.08 869.33 933.98 868.76 935.88 868.41C937.77 868.05 939.67 867.89 941.57 867.53C943.46 867.16 945.36 866.77 947.26 866.22C949.15 865.67 951.05 864.78 952.95 864.23C954.84 863.68 956.74 863.67 958.64 862.92C960.53 862.18 962.43 860.75 964.33 859.77C966.22 858.79 968.12 857.92 970.02 857.05C971.91 856.18 973.81 855.33 975.71 854.56C977.60 853.79 979.50 853.17 981.40 852.42C983.29 851.66 985.19 850.66 987.09 850.01C988.98 849.37 990.88 849.44 992.78 848.55C994.67 847.67 996.57 846.16 998.47 844.70C1000.36 843.25 1002.26 841.63 1004.16 839.84C1006.05 838.05 1007.95 835.62 1009.85 833.95C1011.74 832.29 1013.64 830.94 1015.54 829.86C1017.43 828.77 1019.33 828.29 1021.23 827.44C1023.12 826.59 1025.02 826.04 1026.91 824.73C1028.81 823.42 1030.71 821.04 1032.61 819.58C1034.50 818.12 1036.40 816.81 1038.30 815.99C1040.19 815.18 1042.09 815.12 1043.99 814.69C1045.88 814.26 1047.78 813.77 1049.67 813.43C1051.57 813.10 1053.47 813.04 1055.37 812.68C1057.26 812.32 1059.16 811.94 1061.06 811.27C1062.95 810.61 1064.85 809.54 1066.75 808.68C1068.64 807.83 1070.54 807.13 1072.43 806.12C1074.33 805.11 1076.23 803.69 1078.12 802.62C1080.02 801.55 1081.92 800.47 1083.82 799.70C1085.71 798.93 1087.61 799.17 1089.51 798.00C1091.40 796.83 1093.30 794.29 1095.20 792.68C1097.09 791.07 1098.99 790.71 1100.88 788.35C1102.78 785.99 1104.68 784.71 1106.58 778.50C1108.47 772.30 1110.37 760.47 1112.27 751.12C1114.16 741.77 1116.06 731.14 1117.96 722.40C1119.85 713.66 1121.75 706.94 1123.64 698.70C1125.54 690.46 1127.44 680.59 1129.34 672.97C1131.23 665.35 1133.13 659.39 1135.03 652.97C1136.92 646.56 1138.82 639.91 1140.72 634.49C1142.61 629.07 1144.51 624.99 1146.41 620.45C1148.30 615.92 1150.20 611.00 1152.10 607.28C1153.99 603.56 1155.89 602.12 1157.79 598.14C1159.68 594.16 1161.58 587.02 1163.48 583.40C1165.37 579.78 1167.27 578.68 1169.17 576.41C1171.06 574.15 1172.96 571.46 1174.86 569.84C1176.75 568.21 1178.65 566.93 1180.55 566.66C1182.44 566.39 1184.34 566.63 1186.24 568.21C1188.13 569.78 1190.03 572.91 1191.93 576.10C1193.82 579.29 1195.72 583.03 1197.62 587.34C1199.51 591.64 1201.41 597.81 1203.31 601.92C1205.20 606.03 1207.10 608.65 1209.00 612.00C1210.89 615.34 1212.79 618.64 1214.69 621.99C1216.58 625.34 1218.48 629.15 1220.38 632.09C1222.27 635.04 1224.17 636.46 1226.07 639.68C1227.96 642.90 1229.86 647.88 1231.76 651.41C1233.65 654.94 1235.55 657.62 1237.45 660.87C1239.34 664.11 1241.24 667.47 1243.14 670.88C1245.03 674.29 1246.93 678.06 1248.83 681.33C1250.72 684.59 1252.62 687.95 1254.52 690.49C1256.41 693.02 1258.31 694.33 1260.21 696.55C1262.10 698.76 1264.00 700.95 1265.90 703.76C1267.79 706.58 1269.69 709.74 1271.59 713.43C1273.48 717.11 1275.38 722.26 1277.28 725.88C1279.17 729.51 1281.07 732.10 1282.97 735.18C1284.86 738.26 1286.76 741.69 1288.66 744.36C1290.55 747.03 1292.45 749.00 1294.35 751.21C1296.24 753.42 1298.14 755.48 1300.04 757.61C1301.93 759.73 1303.83 761.62 1305.73 763.96C1307.62 766.30 1309.52 769.80 1311.42 771.65C1313.31 773.51 1315.21 773.85 1317.11 775.11C1319.00 776.36 1320.90 777.99 1322.80 779.17C1324.69 780.36 1326.59 781.11 1328.49 782.22C1330.38 783.32 1332.28 784.74 1334.18 785.79C1336.07 786.83 1337.97 787.88 1339.87 788.50C1341.76 789.12 1343.66 789.20 1345.56 789.52C1347.45 789.83 1349.35 790.29 1351.25 790.39C1353.14 790.49 1355.04 790.17 1356.94 790.13C1358.83 790.09 1360.73 790.51 1362.63 790.13C1364.52 789.75 1366.42 788.71 1368.32 787.83C1370.21 786.95 1372.11 785.77 1374.01 784.84C1375.90 783.91 1377.80 783.08 1379.70 782.23C1381.59 781.38 1383.49 780.56 1385.39 779.74C1387.28 778.92 1389.18 778.06 1391.08 777.29C1392.97 776.52 1394.87 776.17 1396.77 775.14C1398.66 774.10 1400.56 771.89 1402.46 771.07C1404.35 770.25 1406.25 771.05 1408.15 770.20C1410.04 769.34 1411.94 767.93 1413.84 765.93C1415.73 763.92 1417.63 760.85 1419.53 758.15C1421.42 755.44 1423.32 754.15 1425.22 749.68C1427.11 745.21 1429.01 738.85 1430.91 731.32C1432.80 723.79 1434.70 714.11 1436.60 704.48C1438.49 694.85 1440.39 684.28 1442.29 673.55C1444.18 662.82 1446.08 650.21 1447.98 640.10C1449.87 629.99 1451.77 621.13 1453.67 612.88C1455.56 604.62 1457.46 599.16 1459.36 590.58C1461.25 582.01 1463.15 572.93 1465.05 561.42C1466.94 549.92 1468.84 533.57 1470.74 521.54C1472.63 509.51 1474.53 502.21 1476.43 489.25C1478.32 476.29 1480.22 459.90 1482.12 443.79C1484.01 427.67 1485.91 407.37 1487.81 392.58C1489.70 377.78 1491.60 365.37 1493.50 355.00C1495.39 344.63 1497.29 336.34 1499.19 330.36C1501.08 324.38 1502.98 323.44 1504.88 319.15C1506.77 314.86 1508.67 310.31 1510.57 304.61C1512.46 298.90 1514.36 289.80 1516.26 284.92C1518.15 280.05 1520.05 277.67 1521.95 275.33C1523.84 272.99 1525.74 271.87 1527.64 270.87C1529.53 269.87 1531.43 270.20 1533.33 269.31C1535.22 268.43 1537.12 267.34 1539.02 265.58C1540.91 263.81 1542.81 261.21 1544.71 258.71C1546.60 256.20 1548.50 251.20 1550.40 250.56C1552.29 249.91 1554.19 251.00 1556.09 254.81C1557.98 258.62 1559.88 265.45 1561.78 273.41C1563.67 281.37 1565.57 294.39 1567.47 302.57C1569.36 310.75 1571.26 315.84 1573.16 322.47C1575.05 329.09 1576.95 335.28 1578.85 342.32C1580.74 349.36 1582.64 356.09 1584.54 364.73C1586.43 373.37 1588.33 384.58 1590.23 394.15C1592.12 403.72 1594.02 412.26 1595.92 422.16C1597.81 432.06 1599.71 443.56 1601.61 453.55C1603.50 463.54 1605.40 473.93 1607.30 482.09C1609.19 490.25 1611.09 496.66 1612.99 502.51C1614.88 508.36 1616.78 513.37 1618.68 517.20C1620.57 521.03 1622.47 521.55 1624.37 525.47C1626.26 529.39 1628.16 535.86 1630.06 540.72C1631.95 545.58 1633.85 550.96 1635.75 554.64C1637.64 558.33 1639.54 560.35 1641.44 562.82C1643.33 565.29 1645.23 566.79 1647.13 569.46C1649.02 572.13 1650.92 576.16 1652.82 578.84C1654.71 581.52 1656.61 582.90 1658.51 585.55C1660.40 588.20 1662.30 591.09 1664.20 594.72C1666.09 598.36 1667.99 603.81 1669.89 607.34C1671.78 610.87 1673.68 612.32 1675.58 615.91C1677.47 619.50 1679.37 624.96 1681.27 628.88C1683.16 632.79 1685.06 636.05 1686.96 639.38C1688.85 642.71 1690.75 646.63 1692.65 648.86C1694.54 651.09 1696.44 651.74 1698.34 652.76C1700.23 653.78 1702.13 654.21 1704.03 654.98C1705.92 655.75 1707.82 656.13 1709.72 657.37C1711.61 658.61 1713.51 661.70 1715.41 662.42C1717.30 663.15 1719.20 662.39 1721.10 661.72C1722.99 661.04 1724.89 659.49 1726.79 658.37C1728.68 657.24 1730.58 656.18 1732.48 654.96C1734.37 653.75 1736.27 651.48 1738.17 651.07C1740.06 650.66 1742.91 652.27 1743.86 652.51" fill="none" stroke="#66ffff" stroke-width="4.2" stroke-linecap="round" stroke-linejoin="round" filter="url(#lsh)"/>
<g filter="url(#csh)"><rect x="1680" y="580.2" width="89.8" height="29.5" fill="url(#cg)" fill-opacity="0.6"/><path d="M1733 609.7H1755.5L1745.4 652.5Z" fill="#7a7a7a" fill-opacity="0.52"/></g>
<text x="1724.4" y="599.8" text-anchor="middle" font-weight="bold" font-size="18.5" fill="#ffffff" textLength="48.4" lengthAdjust="spacingAndGlyphs">2,469</text>
<g font-size="21.6" fill="#595959"><text x="84.7" y="909.9" text-anchor="end" textLength="11.8" lengthAdjust="spacingAndGlyphs">0</text><text x="84.7" y="808.6" text-anchor="end" textLength="47.0" lengthAdjust="spacingAndGlyphs">1000</text><text x="84.7" y="706.6" text-anchor="end" textLength="47.0" lengthAdjust="spacingAndGlyphs">2000</text><text x="84.7" y="605.6" text-anchor="end" textLength="47.0" lengthAdjust="spacingAndGlyphs">3000</text><text x="84.7" y="504.6" text-anchor="end" textLength="47.0" lengthAdjust="spacingAndGlyphs">4000</text><text x="84.7" y="402.6" text-anchor="end" textLength="47.0" lengthAdjust="spacingAndGlyphs">5000</text><text x="84.7" y="301.6" text-anchor="end" textLength="47.0" lengthAdjust="spacingAndGlyphs">6000</text><text x="84.7" y="200.6" text-anchor="end" textLength="47.0" lengthAdjust="spacingAndGlyphs">7000</text><text x="84.7" y="98.6" text-anchor="end" textLength="47.0" lengthAdjust="spacingAndGlyphs">8000</text></g>
<g font-size="18.6" fill="#595959"><text transform="translate(118.12 975.80) rotate(-90)" textLength="61.0" lengthAdjust="spacingAndGlyphs">24-Dec</text><text transform="translate(157.96 975.80) rotate(-90)" textLength="61.0" lengthAdjust="spacingAndGlyphs">31-Dec</text><text transform="translate(197.79 971.40) rotate(-90)" textLength="56.6" lengthAdjust="spacingAndGlyphs">07-Jan</text><text transform="translate(237.62 971.40) rotate(-90)" textLength="56.6" lengthAdjust="spacingAndGlyphs">14-Jan</text><text transform="translate(277.45 971.40) rotate(-90)" textLength="56.6" lengthAdjust="spacingAndGlyphs">21-Jan</text><text transform="translate(317.28 971.40) rotate(-90)" textLength="56.6" lengthAdjust="spacingAndGlyphs">28-Jan</text><text transform="translate(357.11 973.40) rotate(-90)" textLength="58.6" lengthAdjust="spacingAndGlyphs">04-Feb</text><text transform="translate(396.94 973.40) rotate(-90)" textLength="58.6" lengthAdjust="spacingAndGlyphs">11-Feb</text><text transform="translate(436.77 973.40) rotate(-90)" textLength="58.6" lengthAdjust="spacingAndGlyphs">18-Feb</text><text transform="translate(476.60 973.40) rotate(-90)" textLength="58.6" lengthAdjust="spacingAndGlyphs">25-Feb</text><text transform="translate(516.43 979.10) rotate(-90)" textLength="64.3" lengthAdjust="spacingAndGlyphs">04-Mar</text><text transform="translate(556.25 979.10) rotate(-90)" textLength="64.3" lengthAdjust="spacingAndGlyphs">11-Mar</text><text transform="translate(596.09 979.10) rotate(-90)" textLength="64.3" lengthAdjust="spacingAndGlyphs">18-Mar</text><text transform="translate(635.92 979.10) rotate(-90)" textLength="64.3" lengthAdjust="spacingAndGlyphs">25-Mar</text><text transform="translate(675.75 974.70) rotate(-90)" textLength="59.9" lengthAdjust="spacingAndGlyphs">01-Apr</text><text transform="translate(715.58 974.70) rotate(-90)" textLength="59.9" lengthAdjust="spacingAndGlyphs">08-Apr</text><text transform="translate(755.41 974.70) rotate(-90)" textLength="59.9" lengthAdjust="spacingAndGlyphs">15-Apr</text><text transform="translate(795.24 974.70) rotate(-90)" textLength="59.9" lengthAdjust="spacingAndGlyphs">22-Apr</text><text transform="translate(835.07 974.70) rotate(-90)" textLength="59.9" lengthAdjust="spacingAndGlyphs">29-Apr</text><text transform="translate(874.90 981.60) rotate(-90)" textLength="66.8" lengthAdjust="spacingAndGlyphs">06-May</text><text transform="translate(914.73 981.60) rotate(-90)" textLength="66.8" lengthAdjust="spacingAndGlyphs">13-May</text><text transform="translate(954.56 981.60) rotate(-90)" textLength="66.8" lengthAdjust="spacingAndGlyphs">20-May</text><text transform="translate(994.39 981.60) rotate(-90)" textLength="66.8" lengthAdjust="spacingAndGlyphs">27-May</text><text transform="translate(1034.21 972.20) rotate(-90)" textLength="57.4" lengthAdjust="spacingAndGlyphs">03-Jun</text><text transform="translate(1074.05 972.20) rotate(-90)" textLength="57.4" lengthAdjust="spacingAndGlyphs">10-Jun</text><text transform="translate(1113.88 972.20) rotate(-90)" textLength="57.4" lengthAdjust="spacingAndGlyphs">17-Jun</text><text transform="translate(1153.71 972.20) rotate(-90)" textLength="57.4" lengthAdjust="spacingAndGlyphs">24-Jun</text><text transform="translate(1193.54 965.90) rotate(-90)" textLength="51.1" lengthAdjust="spacingAndGlyphs">01-Jul</text><text transform="translate(1233.37 965.90) rotate(-90)" textLength="51.1" lengthAdjust="spacingAndGlyphs">08-Jul</text><text transform="translate(1273.20 965.90) rotate(-90)" textLength="51.1" lengthAdjust="spacingAndGlyphs">15-Jul</text><text transform="translate(1313.03 965.90) rotate(-90)" textLength="51.1" lengthAdjust="spacingAndGlyphs">22-Jul</text><text transform="translate(1352.86 965.90) rotate(-90)" textLength="51.1" lengthAdjust="spacingAndGlyphs">29-Jul</text><text transform="translate(1392.69 976.80) rotate(-90)" textLength="62.0" lengthAdjust="spacingAndGlyphs">05-Aug</text><text transform="translate(1432.52 976.80) rotate(-90)" textLength="62.0" lengthAdjust="spacingAndGlyphs">12-Aug</text><text transform="translate(1472.35 976.80) rotate(-90)" textLength="62.0" lengthAdjust="spacingAndGlyphs">19-Aug</text><text transform="translate(1512.18 976.80) rotate(-90)" textLength="62.0" lengthAdjust="spacingAndGlyphs">26-Aug</text><text transform="translate(1552.01 974.20) rotate(-90)" textLength="59.4" lengthAdjust="spacingAndGlyphs">02-Sep</text><text transform="translate(1591.84 974.20) rotate(-90)" textLength="59.4" lengthAdjust="spacingAndGlyphs">09-Sep</text><text transform="translate(1631.67 974.20) rotate(-90)" textLength="59.4" lengthAdjust="spacingAndGlyphs">16-Sep</text><text transform="translate(1671.50 974.20) rotate(-90)" textLength="59.4" lengthAdjust="spacingAndGlyphs">23-Sep</text><text transform="translate(1711.33 974.20) rotate(-90)" textLength="59.4" lengthAdjust="spacingAndGlyphs">30-Sep</text><text transform="translate(1751.16 972.20) rotate(-90)" textLength="57.4" lengthAdjust="spacingAndGlyphs">07-Oct</text><text transform="translate(1790.99 972.20) rotate(-90)" textLength="57.4" lengthAdjust="spacingAndGlyphs">14-Oct</text></g>
<text x="20.2" y="38" font-weight="bold" font-size="25.4" fill="#7f7f7f" textLength="232" lengthAdjust="spacingAndGlyphs">15-Oct Report Data</text>
<text x="505.4" y="70.9" font-size="41.3" fill="#595959" textLength="805.2" lengthAdjust="spacingAndGlyphs">Scotland - Positive Tests by Specimen Date</text>
<text x="1667.6" y="46.6" font-weight="bold" font-size="32.5" fill="#7f7f7f" textLength="127.2" lengthAdjust="spacingAndGlyphs">@RP131</text>
<text x="832" y="1005" font-weight="bold" font-size="20.6" fill="#595959" textLength="162" lengthAdjust="spacingAndGlyphs">SPECIMEN DATE</text>
<text x="1341" y="1008.8" font-weight="bold" font-size="24.5" fill="#a6a6a6" textLength="455.8" lengthAdjust="spacingAndGlyphs">Data Source: coronavirus.data.gov.uk</text>
<g filter="url(#bsh)"><rect x="112" y="103.5" width="535" height="53" fill="url(#avgbox)" fill-opacity="0.93"/></g>
<text x="185" y="140" font-weight="bold" font-size="26.5" fill="#7f7f7f" textLength="388.5" lengthAdjust="spacingAndGlyphs" filter="url(#tsh)">Average holding level for 7 days</text>
<rect x="699.5" y="105.5" width="403" height="80" fill="#f3f3f3" fill-opacity="0.9" stroke="#b0b0b0" stroke-width="1.5"/>
<rect x="730" y="119" width="50" height="13.8" fill="url(#lg)"/>
<line x1="729.3" x2="780" y1="164.9" y2="164.9" stroke="#66ffff" stroke-width="4.2" stroke-linecap="round"/>
<text x="786.3" y="132.8" font-size="23.5" fill="#595959" textLength="295.4" lengthAdjust="spacingAndGlyphs">Positives by Specimen Date</text>
<text x="786.3" y="171.7" font-size="23.5" fill="#595959" textLength="247.3" lengthAdjust="spacingAndGlyphs">7 Day Centred Average</text>
<g filter="url(#bsh)"><rect x="694" y="200" width="412" height="87" fill="#dae3f3"/></g>
<g font-size="18.3" fill="#000000"><text x="712.2" y="223.7" textLength="375.2" lengthAdjust="spacingAndGlyphs">The "lag" period is the latest approx. 4 days</text><text x="708.5" y="249.7" textLength="383.8" lengthAdjust="spacingAndGlyphs">which are still being actively reported. Drops</text><text x="723.3" y="275.7" textLength="352.9" lengthAdjust="spacingAndGlyphs">in that period are very likely to still grow.</text></g>
<g font-weight="bold" font-size="27" fill="#a9a9a9" text-anchor="middle"><text x="1773.5" y="130.6" textLength="14.5" lengthAdjust="spacingAndGlyphs">L</text><text x="1774.6" y="170.4" textLength="18.3" lengthAdjust="spacingAndGlyphs">A</text><text x="1774.6" y="209.2" textLength="19" lengthAdjust="spacingAndGlyphs">G</text></g>
</svg></body></html>
